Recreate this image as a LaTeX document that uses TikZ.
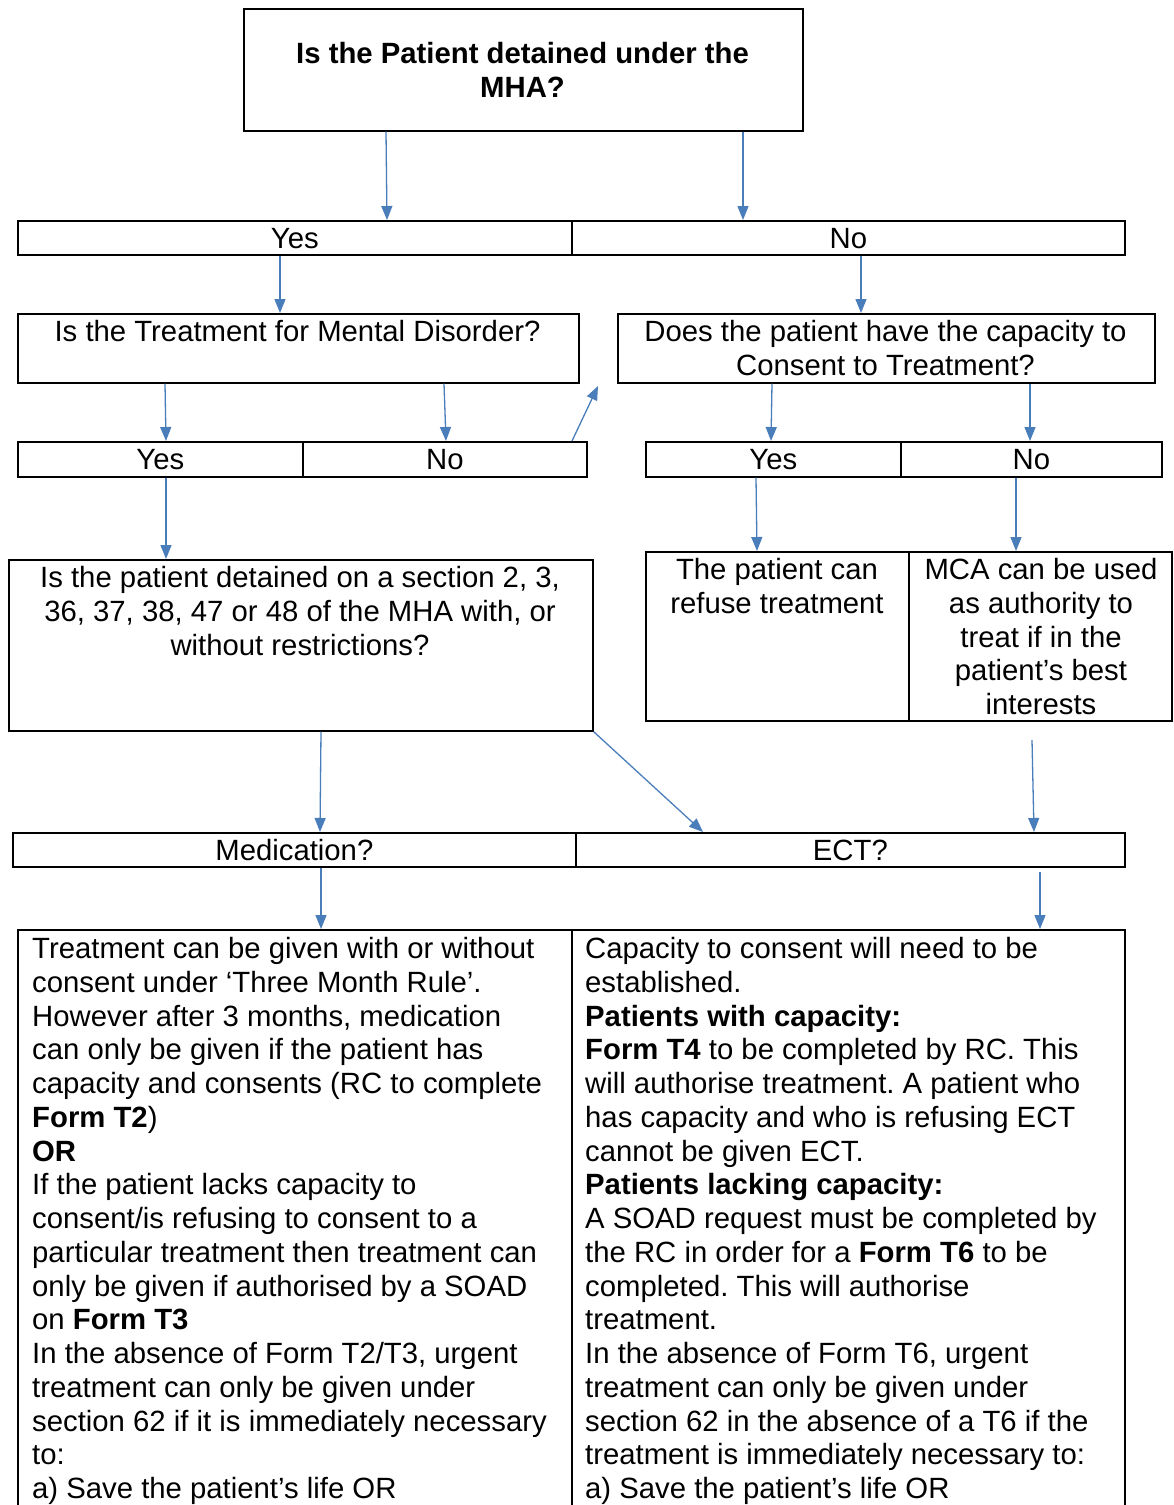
\documentclass[tikz,border=0pt]{standalone}
\usepackage{fontspec}
\setmainfont{Liberation Sans}
\usetikzlibrary{arrows.meta}
\definecolor{arrblue}{RGB}{74,126,187}
\frenchspacing
\begin{document}
\frenchspacing
\begin{tikzpicture}[x=1pt,y=-1pt,
  box/.style={draw, line width=1.7pt, inner sep=0pt, anchor=north west, rectangle},
  rowbox/.style={box, text height=21pt, text depth=0pt, font=\fontsize{29.3}{33.75}\selectfont},
  txt/.style={inner sep=0pt, anchor=north, align=center, font=\fontsize{29.3}{33.75}\selectfont},
  ltxt/.style={inner sep=0pt, anchor=north west, align=left, font=\fontsize{29.3}{33.75}\selectfont},
  arr/.style={draw=arrblue, line width=1.3pt, -{Triangle[length=14pt,width=11pt]}},
]
\useasboundingbox (0,0) rectangle (1174,1505);
\clip (0,0) rectangle (1174,1505);
\fill[white] (0,0) rectangle (1174,1505);

% boxes
\node[box, minimum width=559pt, minimum height=122pt] (top) at (243,8) {};
\node[rowbox, minimum width=554pt, minimum height=34pt] (yes1) at (17,220) {Yes};
\node[rowbox, minimum width=553pt, minimum height=34pt] (no1) at (571,220) {No};
\node[box, minimum width=561pt, minimum height=69pt] (q2L) at (17,313) {};
\node[box, minimum width=537pt, minimum height=69pt] (q2R) at (617,313) {};
\node[rowbox, minimum width=285pt, minimum height=35pt] (yes2L) at (17,441) {Yes};
\node[rowbox, minimum width=284pt, minimum height=35pt] (no2L) at (302,441) {No};
\node[rowbox, minimum width=255pt, minimum height=35pt] (yes2R) at (645,441) {Yes};
\node[rowbox, minimum width=261pt, minimum height=35pt] (no2R) at (900,441) {No};
\node[box, minimum width=584pt, minimum height=171pt] (q3) at (8,559) {};
\node[box, minimum width=263pt, minimum height=169pt] (refuse) at (645,551) {};
\node[box, minimum width=263pt, minimum height=169pt] (mca) at (908,551) {};
\node[rowbox, minimum width=563pt, minimum height=34pt] (med) at (12,832) {Medication?};
\node[rowbox, minimum width=549pt, minimum height=34pt] (ect) at (575,832) {ECT?};
\node[box, minimum width=554pt, minimum height=620pt] (medbox) at (17,929) {};
\node[box, minimum width=553pt, minimum height=620pt] (ectbox) at (571,929) {};

% texts
\node[txt] (ttop) at (522.5,39.9) {\strut\textbf{Is the Patient detained under the}\\\textbf{MHA?}};
\node[txt] (tq2L) at (297.5,317.9) {\strut Is the Treatment for Mental Disorder?};
\node[txt] (tq2R) at (885.5,317.9) {\strut Does the patient have the capacity to\\Consent to Treatment?};
\node[txt] (tq3) at (300,563.9) {\strut Is the patient detained on a section 2, 3,\\36, 37, 38, 47 or 48 of the MHA with, or\\without restrictions?};
\node[txt] (trefuse) at (777,555.9) {\strut The patient can\\refuse treatment};
\node[txt] (tmca) at (1041,555.9) {\strut MCA can be used\\as authority to\\treat if in the\\patient’s best\\interests};

\node[ltxt] (tmed) at (32,934.9) {\strut Treatment can be given with or without\\
consent under ‘Three Month Rule’.\\
However after 3 months, medication\\
can only be given if the patient has\\
capacity and consents (RC to complete\\
\textbf{Form T2})\\
\textbf{OR}\\
If the patient lacks capacity to\\
consent/is refusing to consent to a\\
particular treatment then treatment can\\
only be given if authorised by a SOAD\\
on \textbf{Form T3}\\
In the absence of Form T2/T3, urgent\\
treatment can only be given under\\
section 62 if it is immediately necessary\\
to:\\
a) Save the patient’s life OR};

\node[ltxt] (tect) at (585,934.9) {\strut Capacity to consent will need to be\\
established.\\
\textbf{Patients with capacity:}\\
\textbf{Form T4} to be completed by RC. This\\
will authorise treatment. A patient who\\
has capacity and who is refusing ECT\\
cannot be given ECT.\\
\textbf{Patients lacking capacity:}\\
A SOAD request must be completed by\\
the RC in order for a \textbf{Form T6} to be\\
completed. This will authorise\\
treatment.\\
In the absence of Form T6, urgent\\
treatment can only be given under\\
section 62 in the absence of a T6 if the\\
treatment is immediately necessary to:\\
a) Save the patient’s life OR};

% connectors
\coordinate (a7end) at (598,386);
\coordinate (a15s) at (1032,740);
\coordinate (a17s) at (1040,872);
\draw[arr] (top.south -| 386,0) -- (yes1.north -| 387,0);
\draw[arr] (top.south -| 743,0) -- (no1.north -| 743,0);
\draw[arr] (yes1.south -| 280,0) -- (q2L.north -| 280,0);
\draw[arr] (no1.south -| 861,0) -- (q2R.north -| 861,0);
\draw[arr] (q2L.south -| 165,0) -- (yes2L.north -| 166,0);
\draw[arr] (q2L.south -| 444,0) -- (no2L.north -| 446,0);
\draw[arr] (no2L.north -| 572,0) -- (a7end);
\draw[arr] (q2R.south -| 772,0) -- (yes2R.north -| 771,0);
\draw[arr] (q2R.south -| 1030,0) -- (no2R.north -| 1030,0);
\draw[arr] (yes2L.south -| 166,0) -- (q3.north -| 166,0);
\draw[arr] (yes2R.south -| 756,0) -- (refuse.north -| 757,0);
\draw[arr] (no2R.south -| 1016,0) -- (mca.north -| 1016,0);
\draw[arr] (q3.south -| 321,0) -- (med.north -| 320,0);
\draw[arr] (q3.south east) -- (ect.north -| 703,0);
\draw[arr] (a15s) -- (ect.north -| 1034,0);
\draw[arr] (med.south -| 321,0) -- (medbox.north -| 321,0);
\draw[arr] (a17s) -- (ectbox.north -| 1040,0);
\end{tikzpicture}
\end{document}
